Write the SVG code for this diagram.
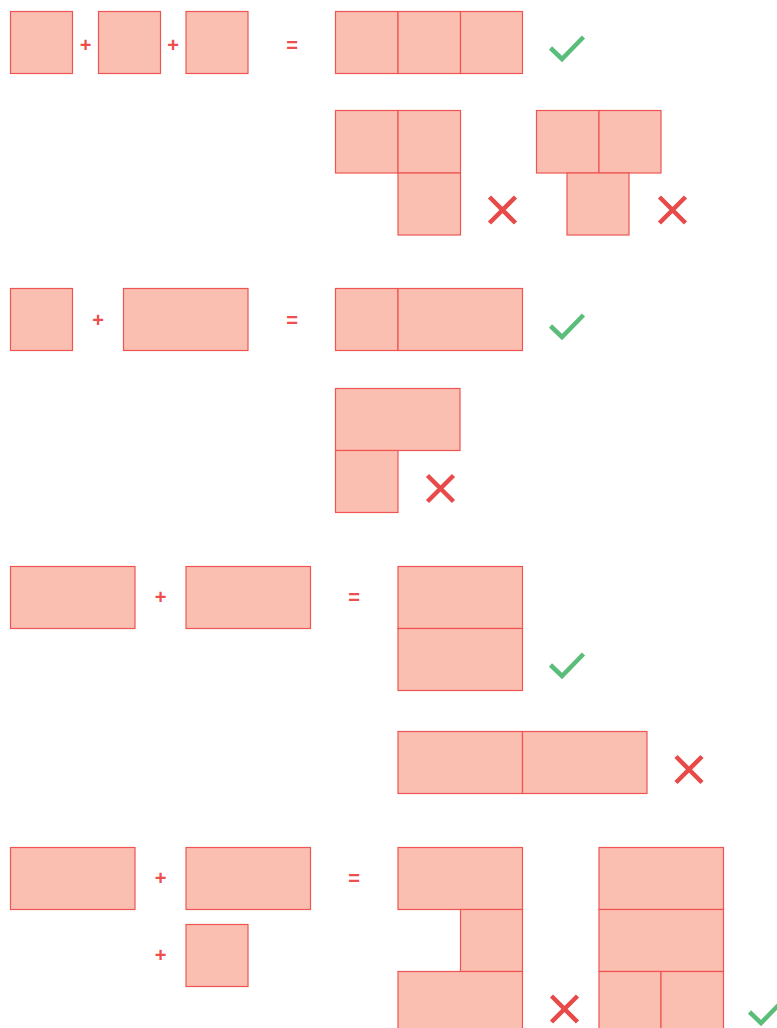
<svg xmlns="http://www.w3.org/2000/svg" width="777" height="1028" viewBox="0 0 777 1028">
<style>
.b{fill:#FBBFB1;stroke:#EE5552;stroke-width:1.2}
.op{fill:#EE4E4C;font-family:"Liberation Sans",Arial,sans-serif;font-weight:bold;font-size:20px;text-anchor:middle}
.ok{fill:none;stroke:#5BBD7A;stroke-width:4.5;stroke-linecap:butt}
.no{fill:none;stroke:#E84A4A;stroke-width:4.5}
</style>
<defs>
<path id="chk" d="M-16.5,1 L-5,12 L16.5,-10"/>
<path id="crs" d="M-13,-13 L13,13 M13,-13 L-13,13"/>
</defs>
<rect width="777" height="1028" fill="#fff"/>
<g id="row1">
<rect class="b" x="10.5" y="11.5" width="62" height="62"/>
<rect class="b" x="98.5" y="11.5" width="62" height="62"/>
<rect class="b" x="186" y="11.5" width="62" height="62"/>
<text class="op" x="85.5" y="52">+</text>
<text class="op" x="173" y="52">+</text>
<text class="op" x="292" y="52">=</text>
<rect class="b" x="335.5" y="11.5" width="62.5" height="62"/>
<rect class="b" x="398" y="11.5" width="62.5" height="62"/>
<rect class="b" x="460.5" y="11.5" width="62" height="62"/>
<use href="#chk" class="ok" x="567" y="47"/>
</g>
<g id="row2">
<rect class="b" x="335.5" y="110.5" width="62.5" height="62.5"/>
<rect class="b" x="398" y="110.5" width="62.5" height="62.5"/>
<rect class="b" x="398" y="173" width="62.5" height="62"/>
<use href="#crs" class="no" x="502.5" y="210"/>
<rect class="b" x="536.5" y="110.5" width="62.5" height="62.5"/>
<rect class="b" x="599" y="110.5" width="62" height="62.5"/>
<rect class="b" x="567" y="173" width="62" height="62"/>
<use href="#crs" class="no" x="672.5" y="210"/>
</g>
<g id="row3">
<rect class="b" x="10.5" y="288.5" width="62" height="62"/>
<rect class="b" x="123.5" y="288.5" width="124.5" height="62"/>
<text class="op" x="98" y="326.5">+</text>
<text class="op" x="292" y="326.5">=</text>
<rect class="b" x="335.5" y="288.5" width="62.5" height="62"/>
<rect class="b" x="398" y="288.5" width="124.5" height="62"/>
<use href="#chk" class="ok" x="567" y="325"/>
</g>
<g id="row4">
<rect class="b" x="335.5" y="388.5" width="124.5" height="62"/>
<rect class="b" x="335.5" y="450.5" width="62.5" height="62"/>
<use href="#crs" class="no" x="440.5" y="488.5"/>
</g>
<g id="row5">
<rect class="b" x="10.5" y="566.5" width="124.5" height="62"/>
<rect class="b" x="186" y="566.5" width="124.5" height="62"/>
<text class="op" x="160.5" y="603.5">+</text>
<text class="op" x="354" y="603.5">=</text>
<rect class="b" x="398" y="566.5" width="124.5" height="62"/>
<rect class="b" x="398" y="628.5" width="124.5" height="62"/>
<use href="#chk" class="ok" x="567" y="664"/>
</g>
<g id="row6">
<rect class="b" x="398" y="731.5" width="124.5" height="62"/>
<rect class="b" x="522.5" y="731.5" width="124.5" height="62"/>
<use href="#crs" class="no" x="689" y="769.5"/>
</g>
<g id="row7">
<rect class="b" x="10.5" y="847.5" width="124.5" height="62"/>
<rect class="b" x="186" y="847.5" width="124.5" height="62"/>
<text class="op" x="160.5" y="884.5">+</text>
<text class="op" x="354" y="884.5">=</text>
<text class="op" x="160.5" y="961.5">+</text>
<rect class="b" x="186" y="924.5" width="62" height="62"/>
<rect class="b" x="398" y="847.5" width="124.5" height="62"/>
<rect class="b" x="460.5" y="909.5" width="62" height="62"/>
<rect class="b" x="398" y="971.5" width="124.5" height="62"/>
<use href="#crs" class="no" x="564.5" y="1009"/>
<rect class="b" x="599" y="847.5" width="124.5" height="62"/>
<rect class="b" x="599" y="909.5" width="124.5" height="62"/>
<rect class="b" x="599" y="971.5" width="62" height="62"/>
<rect class="b" x="661" y="971.5" width="62.5" height="62"/>
<use href="#chk" class="ok" x="766" y="1011"/>
</g>
</svg>
